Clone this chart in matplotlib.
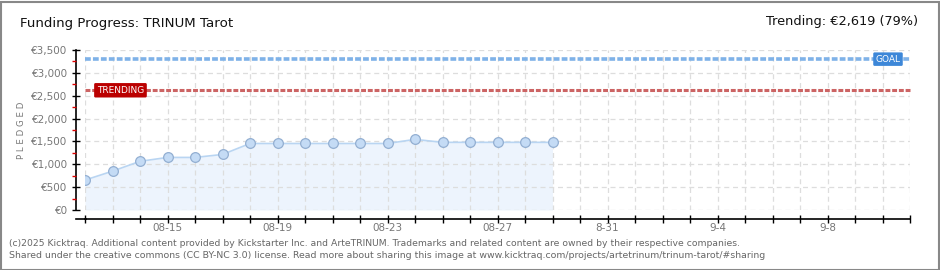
import matplotlib
matplotlib.use("Agg")
import matplotlib.pyplot as plt
import numpy as np
from matplotlib.patches import Rectangle
from matplotlib.lines import Line2D

# ---- data ----
pledged = [655, 850, 1065, 1150, 1150, 1215, 1455, 1455, 1455, 1455, 1455, 1455,
           1545, 1480, 1480, 1480, 1480, 1480]
goal = 3300
trending = 2619
n_days = 31  # 08-12 .. 09-11
tick_days = [3, 7, 11, 15, 19, 23, 27]
tick_labels = ["08-15", "08-19", "08-23", "08-27", "8-31", "9-4", "9-8"]
y_ticks = [0, 500, 1000, 1500, 2000, 2500, 3000, 3500]
y_labels = ["€0", "€500", "€1,000", "€1,500", "€2,000", "€2,500", "€3,000", "€3,500"]

W, H = 940, 270
fig = plt.figure(figsize=(W / 100, H / 100), dpi=100)
fig.patch.set_facecolor("white")

# outer border
fig.patches.append(Rectangle((0.5 / W, 0.5 / H), 1 - 2 / W, 1 - 2 / H, transform=fig.transFigure,
                             fill=False, edgecolor="#888888", lw=1.5))

ax = fig.add_axes([85 / W, (H - 210) / H, (910 - 85) / W, (210 - 50) / H])
x = np.arange(len(pledged))

ax.set_xlim(0, n_days - 1)
ax.set_ylim(0, 3500)

# fill + line + markers
ax.fill_between(x, 0, pledged, color="#edf4fd", zorder=1, lw=0)
ax.plot(x, pledged, color="#b9d5f2", lw=1.2, zorder=3)
ax.plot(x, pledged, ls="none", marker="o", ms=7, mfc="#c4dbf5", mec="#93afd2", mew=0.9, zorder=4)

# grid
ax.set_xticks(np.arange(n_days))
ax.set_yticks(y_ticks)
ax.grid(True, color="#dddddd", ls=(0, (4, 3)), lw=0.9, zorder=1.5)
ax.set_axisbelow(False)
for gl in ax.get_xgridlines() + ax.get_ygridlines():
    gl.set_zorder(1.5)

# goal / trending lines
ax.axhline(goal, color="#7fb2e8", lw=2.6, ls=(0, (1.6, 0.6)), zorder=5, clip_on=False)
ax.axhline(trending, color="#cc6464", lw=2.2, ls=(0, (1.6, 0.6)), zorder=5, clip_on=False)

# labels GOAL / TRENDING
ax.text(29.2, goal, "GOAL", color="white", fontsize=6.5, ha="center", va="center", zorder=6,
        family="DejaVu Sans",
        bbox=dict(boxstyle="round,pad=0.25,rounding_size=0.15", fc="#3d87d8", ec="none"))
ax.text(1.29, trending, "TRENDING", color="white", fontsize=6.5, ha="center", va="center", zorder=6,
        family="DejaVu Sans",
        bbox=dict(boxstyle="round,pad=0.3,rounding_size=0.15", fc="#bb0000", ec="none"))

# spines (offset 9 px = 6.48 pt)
for s in ["top", "right"]:
    ax.spines[s].set_visible(False)
ax.spines["left"].set_position(("outward", 6.48))
ax.spines["bottom"].set_position(("outward", 6.48))
ax.spines["left"].set_bounds(0, 3500)
for s in ["left", "bottom"]:
    ax.spines[s].set_color("black")
    ax.spines[s].set_linewidth(1.2)
# extend x axis line left to meet the y axis column
fig.lines.append(Line2D([76 / W, 85.5 / W], [1 - 219 / H, 1 - 219 / H], transform=fig.transFigure,
                        color="black", lw=1.2))

# x tick labels only at chosen days
labels = [""] * n_days
for d, l in zip(tick_days, tick_labels):
    labels[d] = l
ax.set_xticklabels(labels)
ax.set_yticklabels(y_labels)
ax.tick_params(axis="x", direction="inout", length=6, width=1, colors="black",
               labelcolor="#777777", labelsize=7.5, pad=0)
ax.tick_params(axis="y", direction="inout", length=6, width=1, colors="black",
               labelcolor="#777777", labelsize=7.5, pad=3)
ax.set_yticks(np.arange(250, 3500, 500), minor=True)
ax.tick_params(axis="y", which="minor", direction="out", length=3, width=1, colors="#dd0000")

fig.text(22 / W, 1 - 130 / H, "P L E D G E D", fontsize=6.2, color="#777777", rotation=90,
         ha="center", va="center")

# titles
fig.text(20 / W, 1 - 24 / H, "Funding Progress: TRINUM Tarot", fontsize=9.6, color="#111111",
         ha="left", va="center")
fig.text(918 / W, 1 - 22 / H, "Trending: €2,619 (79%)", fontsize=9.3, color="#111111",
         ha="right", va="center")

# footer
fig.text(9 / W, 1 - 243 / H,
         "(c)2025 Kicktraq. Additional content provided by Kickstarter Inc. and ArteTRINUM. Trademarks and related content are owned by their respective companies.",
         fontsize=6.65, color="#666666", ha="left", va="center")
fig.text(9 / W, 1 - 256 / H,
         "Shared under the creative commons (CC BY-NC 3.0) license. Read more about sharing this image at www.kicktraq.com/projects/artetrinum/trinum-tarot/#sharing",
         fontsize=6.75, color="#666666", ha="left", va="center")

fig.savefig("out.png", dpi=100)
